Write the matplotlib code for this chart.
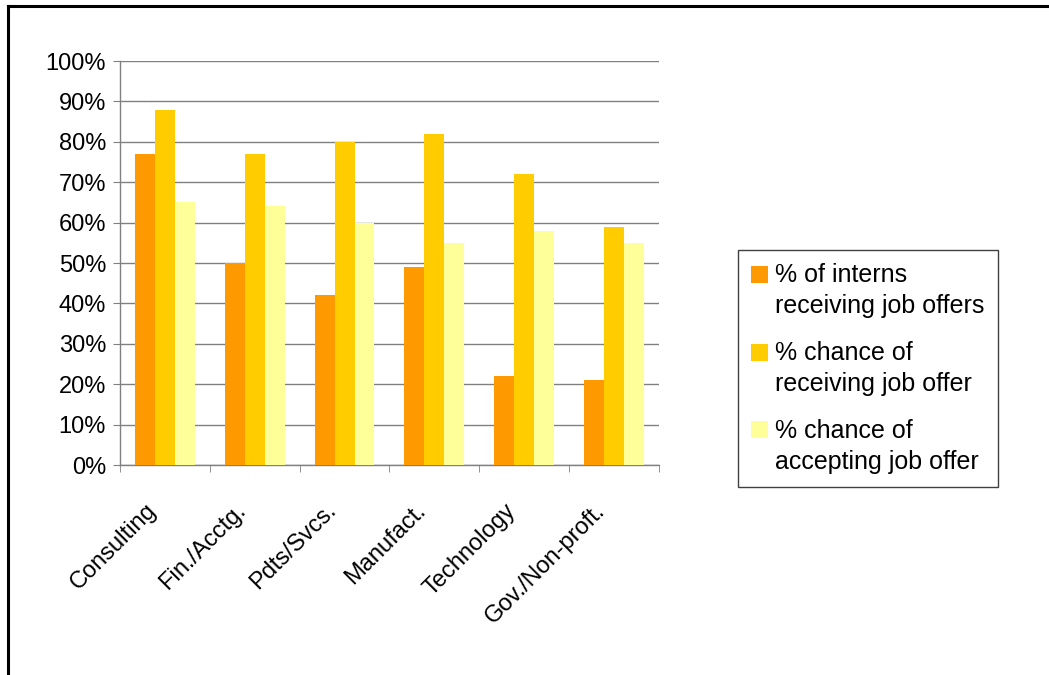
import matplotlib.pyplot as plt
import numpy as np
from matplotlib.lines import Line2D
from matplotlib.patches import Rectangle
from matplotlib.legend_handler import HandlerPatch
from matplotlib.transforms import ScaledTranslation

plt.rcParams['font.family'] = ['Liberation Sans', 'DejaVu Sans']

# 数据
categories = ['Consulting', 'Fin./Acctg.', 'Pdts/Svcs.', 'Manufact.', 'Technology', 'Gov./Non-proft.']
interns_offers = [77, 50, 42, 49, 22, 21]
chance_receiving = [88, 77, 80, 82, 72, 59]
chance_accepting = [65, 64, 60, 55, 58, 55]
series_labels = ['% of interns\nreceiving job offers',
                 '% chance of\nreceiving job offer',
                 '% chance of\naccepting job offer']
colors = ['#FF9900', '#FFCC00', '#FFFF99']

fig = plt.figure(figsize=(10.49, 6.75), dpi=100)
ax = fig.add_axes((0.1144, 0.311, 0.5138, 0.5986))

x = np.arange(len(categories))
w = 0.222
bars = []
for i, vals in enumerate([interns_offers, chance_receiving, chance_accepting]):
    b = ax.bar(x + (i - 1) * w, vals, width=w, color=colors[i], label=series_labels[i], zorder=3)
    bars.append(b)

ax.set_xlim(-0.5, len(categories) - 0.5)
ax.set_ylim(0, 100)
ax.set_yticks(range(0, 101, 10))
ax.set_yticklabels([f'{v}%' for v in range(0, 101, 10)], fontsize=17)
ax.yaxis.grid(True, color='#808080', linewidth=1.0, zorder=0)

# x轴：刻度线在类别之间
ax.set_xticks(x)
ax.set_xticklabels(categories, fontsize=17, rotation=45, ha='right', rotation_mode='anchor')
ax.set_xticks(np.arange(-0.5, len(categories)), minor=True)
ax.tick_params(axis='x', which='major', length=0, pad=16)
ax.tick_params(axis='x', which='minor', length=5, color='#808080', direction='out')
ax.tick_params(axis='y', length=5, color='#808080', pad=5)

# 标签整体左移、下移一点
offset = ScaledTranslation(-0.20, -0.12, fig.dpi_scale_trans)
for lab in ax.get_xticklabels():
    lab.set_transform(lab.get_transform() + offset)

for s in ['top', 'right']:
    ax.spines[s].set_visible(False)
for s in ['left', 'bottom']:
    ax.spines[s].set_color('#808080')
    ax.spines[s].set_linewidth(1.0)


# 图例方块放在文字第一行
def top_square(legend, orig_handle, xdescent, ydescent, width, height, fontsize):
    sq = width
    return Rectangle((-xdescent, -ydescent + height - sq * 0.85), sq, sq)


handles = [b.patches[0] for b in bars]
leg = fig.legend(handles=handles, labels=series_labels, loc='lower left',
                 bbox_to_anchor=(0.7035, 0.2785), fontsize=18, frameon=True,
                 fancybox=False, edgecolor='#404040', framealpha=1,
                 handlelength=0.68, handleheight=2.65, handletextpad=0.3,
                 labelspacing=0.92, borderpad=0.52, borderaxespad=0,
                 handler_map={Rectangle: HandlerPatch(patch_func=top_square)})
leg.get_frame().set_linewidth(1.0)
for t in leg.get_texts():
    t.set_linespacing(1.36)

# 外框（上边与左边）
fig.add_artist(Line2D([8 / 1049, 8 / 1049], [0, 1 - 6 / 675], color='black', linewidth=2.2))
fig.add_artist(Line2D([8 / 1049, 1], [1 - 6 / 675, 1 - 6 / 675], color='black', linewidth=2.2))

fig.savefig('out.png', dpi=100)
